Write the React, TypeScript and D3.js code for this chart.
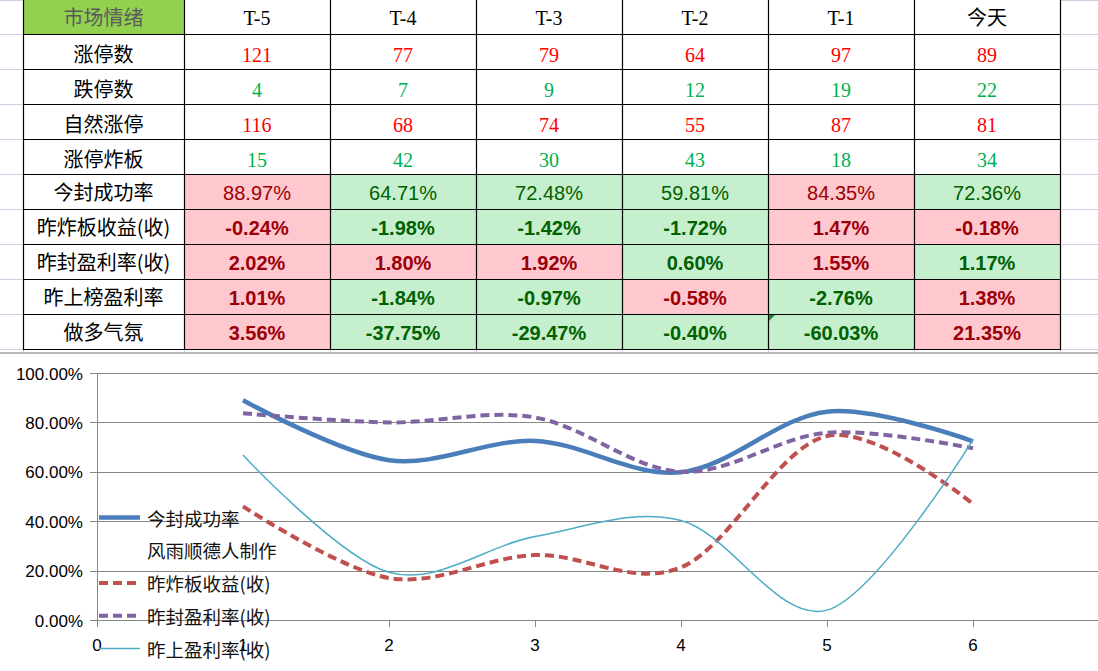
import React from "react";
import * as d3 from "d3";

// ---------- data ----------
const columns = ["T-5", "T-4", "T-3", "T-2", "T-1", "今天"];
const headerLabel = "市场情绪";

const limitUp = [121, 77, 79, 64, 97, 89];
const limitDown = [4, 7, 9, 12, 19, 22];
const naturalLimitUp = [116, 68, 74, 55, 87, 81];
const brokenBoards = [15, 42, 30, 43, 18, 34];

const sealRate = [88.97, 64.71, 72.48, 59.81, 84.35, 72.36];
const brokenReturn = [-0.24, -1.98, -1.42, -1.72, 1.47, -0.18];
const sealProfit = [2.02, 1.8, 1.92, 0.6, 1.55, 1.17];
const listProfit = [1.01, -1.84, -0.97, -0.58, -2.76, 1.38];
const bullMood = [3.56, -37.75, -29.47, -0.4, -60.03, 21.35];

// conditional-format result (1 = pink/red, 0 = green)
const sealRateHot = [1, 0, 0, 0, 1, 0];
const brokenReturnHot = [1, 0, 0, 0, 1, 1];
const sealProfitHot = [1, 1, 1, 0, 1, 0];
const listProfitHot = [1, 0, 0, 1, 0, 1];
const bullMoodHot = [1, 0, 0, 0, 0, 1];

// chart series (chart scale, %)
const xPositions = [1, 2, 3, 4, 5, 6];
const chartSealRate = [88.97, 64.71, 72.48, 59.81, 84.35, 72.36];
const chartBrokenReturn = [46.0, 17.0, 26.3, 21.3, 74.5, 47.0];
const chartSealProfit = [83.7, 80.0, 82.0, 60.0, 75.8, 69.5];
const chartListProfit = [66.8, 19.3, 33.8, 40.3, 4.0, 73.0];

const yTicks = [0, 20, 40, 60, 80, 100];
const xTicks = [0, 1, 2, 3, 4, 5, 6];
const legendLabels = ["今封成功率", "风雨顺德人制作", "昨炸板收益(收)", "昨封盈利率(收)", "昨上盈利率(收)"];

// ---------- styles ----------
const CJK = '"Noto Sans CJK SC", sans-serif';
const SERIF = '"Liberation Serif", "Noto Sans CJK SC", serif';
const SANS = '"Liberation Sans", Arial, sans-serif';
const RED_TXT = "#ff0000";
const GREEN_TXT = "#00b050";
const PINK_BG = "#ffc7ce";
const PINK_TXT = "#9c0006";
const GREEN_BG = "#c6efce";
const GREEN_TXT2 = "#006100";
const GRID_LIGHT = "#c7cfe0";

const seriesStyles = [
  { color: "#4a7ebb", width: 4.5, dash: "" },
  null,
  { color: "#c0504d", width: 4, dash: "9 5" },
  { color: "#8064a2", width: 4, dash: "9 5" },
  { color: "#4bacc6", width: 1.5, dash: "" },
];

type Row =
  | { label: string; kind: "count"; values: number[]; color: string }
  | { label: string; kind: "pct"; values: number[]; hot: number[]; bold: boolean };

const rows: Row[] = [
  { label: "涨停数", kind: "count", values: limitUp, color: RED_TXT },
  { label: "跌停数", kind: "count", values: limitDown, color: GREEN_TXT },
  { label: "自然涨停", kind: "count", values: naturalLimitUp, color: RED_TXT },
  { label: "涨停炸板", kind: "count", values: brokenBoards, color: GREEN_TXT },
  { label: "今封成功率", kind: "pct", values: sealRate, hot: sealRateHot, bold: false },
  { label: "昨炸板收益(收)", kind: "pct", values: brokenReturn, hot: brokenReturnHot, bold: true },
  { label: "昨封盈利率(收)", kind: "pct", values: sealProfit, hot: sealProfitHot, bold: true },
  { label: "昨上榜盈利率", kind: "pct", values: listProfit, hot: listProfitHot, bold: true },
  { label: "做多气氛", kind: "pct", values: bullMood, hot: bullMoodHot, bold: true },
];

export default function App() {
  const W = 1098;
  const H = 671;

  // table geometry
  const tableLeft = 23;
  const labelRight = 184;
  const colW = 146;
  const headerH = 34;
  const rowH = 35;
  const colX = (i: number) => labelRight + i * colW;
  const rowTop = (i: number) => headerH + i * rowH;
  const tableBottom = rowTop(rows.length);
  const tableRight = colX(columns.length);

  // chart scales
  const x = d3.scaleLinear().domain([0, 7]).range([97, 97 + 7 * 146]);
  const y = d3.scaleLinear().domain([0, 100]).range([620, 373]);
  const line = d3
    .line<[number, number]>()
    .x((d) => x(d[0]))
    .y((d) => y(d[1]))
    .curve(d3.curveCardinal.tension(0));

  const seriesData = [chartSealRate, null, chartBrokenReturn, chartSealProfit, chartListProfit];

  const rowEdges = d3.range(rows.length + 1).map((i) => rowTop(i));
  const colEdges = [tableLeft, ...d3.range(columns.length + 1).map((i) => colX(i))];

  const fmtPct = (v: number) => v.toFixed(2) + "%";

  return (
    <div style={{ position: "absolute", left: 0, top: 0 }}>
      <svg width={W} height={H} style={{ display: "block", background: "#fff" }}>
        {/* light sheet gridlines outside table */}
        {[0, ...rowEdges].map((yy, i) => (
          <g key={"lg" + i}>
            <line x1={0} x2={tableLeft} y1={yy + 0.5} y2={yy + 0.5} stroke={GRID_LIGHT} />
            <line x1={tableRight} x2={W} y1={yy + 0.5} y2={yy + 0.5} stroke={GRID_LIGHT} />
          </g>
        ))}
        {colEdges.map((xx, i) => (
          <line key={"stub" + i} x1={xx + 0.5} x2={xx + 0.5} y1={tableBottom} y2={353} stroke={GRID_LIGHT} />
        ))}

        {/* header */}
        <rect x={tableLeft} y={0} width={labelRight - tableLeft} height={headerH} fill="#92d050" />
        <text x={(tableLeft + labelRight) / 2} y={25} textAnchor="middle" fontFamily={CJK} fontSize={20} fill="#5a5a5a">
          {headerLabel}
        </text>
        {columns.map((c, i) => (
          <text key={c} x={colX(i) + colW / 2} y={25} textAnchor="middle" fontFamily={SERIF} fontSize={20} fill="#000">
            {c}
          </text>
        ))}

        {/* rows */}
        {rows.map((r, ri) => {
          const top = rowTop(ri);
          const bottom = top + rowH;
          const base = r.kind === "count" ? bottom - 7.5 : bottom - 9;
          return (
            <g key={r.label}>
              {r.kind === "pct" &&
                r.values.map((_, ci) => (
                  <rect
                    key={"bg" + ci}
                    x={colX(ci)}
                    y={top}
                    width={colW}
                    height={rowH}
                    fill={r.hot[ci] ? PINK_BG : GREEN_BG}
                  />
                ))}
              <text x={(tableLeft + labelRight) / 2} y={base} textAnchor="middle" fontFamily={CJK} fontSize={20} fill="#000">
                {r.label}
              </text>
              {r.values.map((v, ci) =>
                r.kind === "count" ? (
                  <text key={ci} x={colX(ci) + colW / 2} y={base} textAnchor="middle" fontFamily={SERIF} fontSize={20} fill={r.color}>
                    {v}
                  </text>
                ) : (
                  <text
                    key={ci}
                    x={colX(ci) + colW / 2}
                    y={base}
                    textAnchor="middle"
                    fontFamily={SANS}
                    fontSize={20}
                    fontWeight={r.bold ? "bold" : "normal"}
                    fill={r.hot[ci] ? PINK_TXT : GREEN_TXT2}
                  >
                    {fmtPct(v)}
                  </text>
                )
              )}
            </g>
          );
        })}

        {/* table borders */}
        {rowEdges.map((yy, i) => (
          <line key={"h" + i} x1={tableLeft} x2={tableRight + 1} y1={yy + 0.5} y2={yy + 0.5} stroke="#000" strokeWidth={1.2} />
        ))}
        {colEdges.map((xx, i) => (
          <line key={"v" + i} x1={xx + 0.5} x2={xx + 0.5} y1={0} y2={tableBottom + 1} stroke="#000" strokeWidth={1.2} />
        ))}
        {/* error indicator triangle */}
        <polygon
          points={`${colX(4) + 1},${rowTop(8) + 1} ${colX(4) + 7},${rowTop(8) + 1} ${colX(4) + 1},${rowTop(8) + 7}`}
          fill="#1e8a3c"
        />

        {/* chart area */}
        <rect x={0} y={353} width={W} height={H - 353} fill="#fff" />
        <line x1={0} x2={W} y1={353} y2={353} stroke="#a0a0a0" strokeWidth={1.5} />

        {/* gridlines + y labels */}
        {yTicks.map((t) => (
          <g key={"yt" + t}>
            <line x1={90} x2={x(7)} y1={Math.round(y(t)) + 0.5} y2={Math.round(y(t)) + 0.5} stroke="#868686" strokeWidth={1} />
            <text x={83} y={y(t) + 6.5} textAnchor="end" fontFamily={SANS} fontSize={17} fill="#000">
              {t.toFixed(2) + "%"}
            </text>
          </g>
        ))}
        {/* y axis */}
        <line x1={x(0) + 0.5} x2={x(0) + 0.5} y1={y(100)} y2={627} stroke="#868686" />
        {/* x ticks */}
        {xTicks.map((t) => (
          <g key={"xt" + t}>
            <line x1={Math.round(x(t)) + 0.5} x2={Math.round(x(t)) + 0.5} y1={y(0)} y2={627} stroke="#868686" />
            <text x={x(t)} y={651} textAnchor="middle" fontFamily={SANS} fontSize={17} fill="#000">
              {t}
            </text>
          </g>
        ))}

        {/* series */}
        {seriesData.map((vals, si) => {
          const st = seriesStyles[si];
          if (!vals || !st) return null;
          const pts = xPositions.map((xp, i) => [xp, vals[i]] as [number, number]);
          return (
            <path
              key={"s" + si}
              d={line(pts) || ""}
              fill="none"
              stroke={st.color}
              strokeWidth={st.width}
              strokeDasharray={st.dash || undefined}
              strokeLinejoin="round"
            />
          );
        })}

        {/* legend */}
        {legendLabels.map((lab, i) => {
          const cy = 519 + i * 32.75;
          const st = seriesStyles[i];
          return (
            <g key={"lg" + lab}>
              {st && (
                <line
                  x1={99}
                  x2={140}
                  y1={cy - 1.5}
                  y2={cy - 1.5}
                  stroke={st.color}
                  strokeWidth={st.width}
                  strokeDasharray={st.dash || undefined}
                />
              )}
              <text x={147} y={cy + 6.5} fontFamily={CJK} fontSize={18.5} fill="#111">
                {lab}
              </text>
            </g>
          );
        })}
      </svg>
    </div>
  );
}
